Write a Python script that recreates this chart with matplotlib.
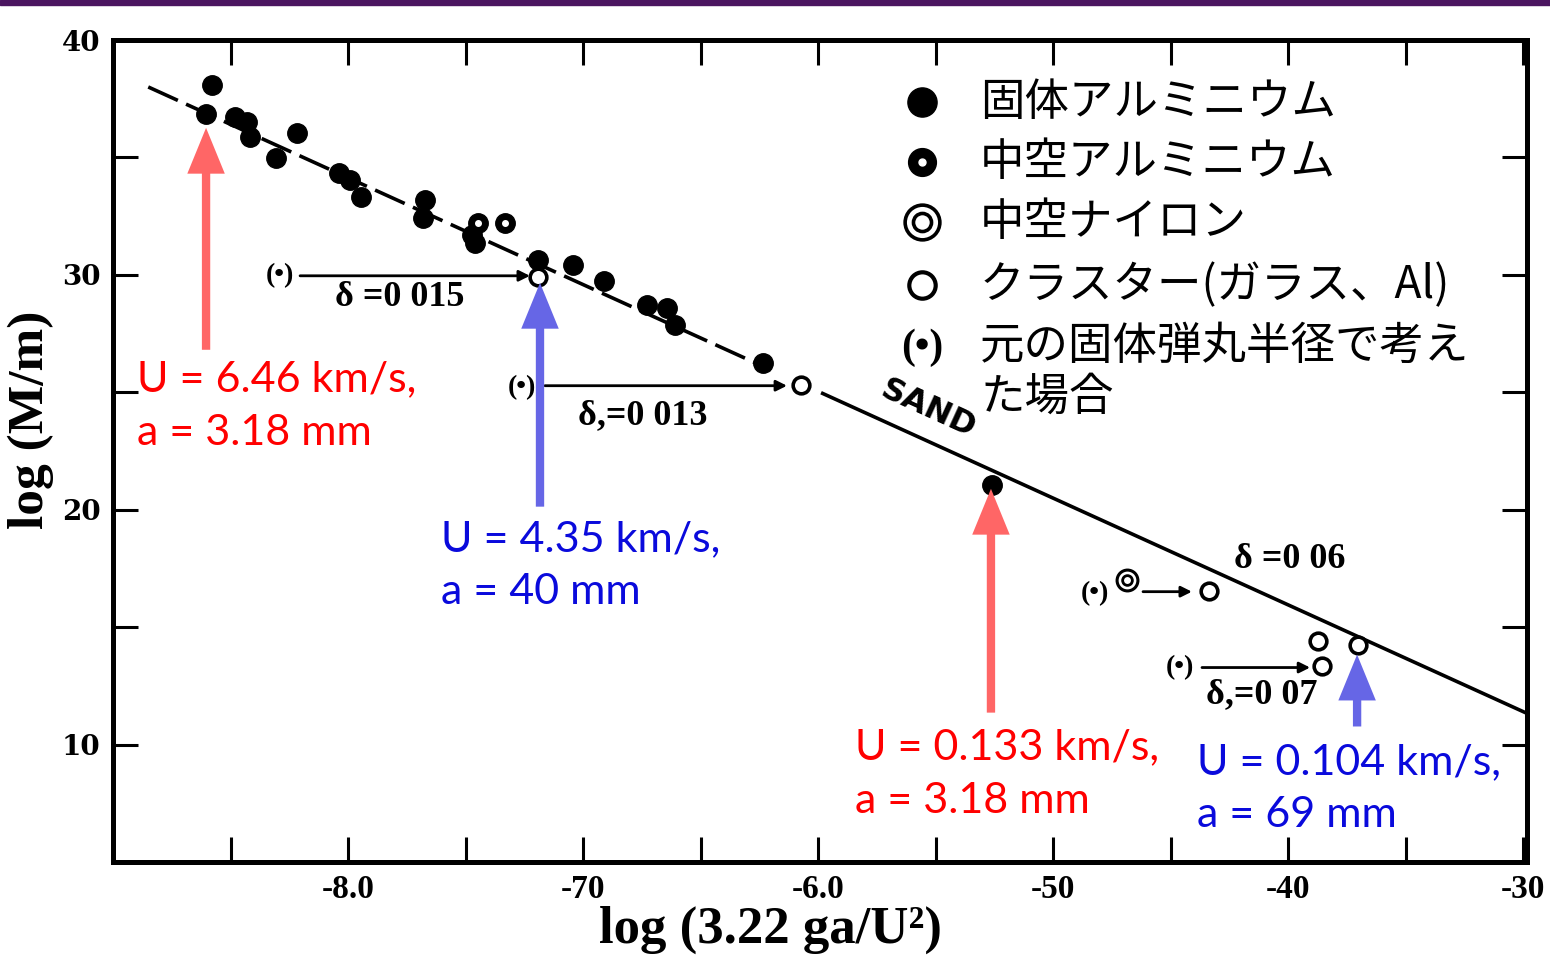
import matplotlib
matplotlib.use('Agg')
import matplotlib.pyplot as plt
from matplotlib.patches import Rectangle
import numpy as np

# ---------------- data ----------------
solid_al_x = [-8.579, -8.604, -8.481, -8.430, -8.417, -8.217, -8.306, -8.038, -7.991, -7.945,
              -7.672, -7.681, -7.460, -7.472, -7.191, -7.043, -6.911, -6.728, -6.643, -6.609,
              -6.234, -5.260]
solid_al_y = [3.809, 3.685, 3.672, 3.651, 3.587, 3.604, 3.498, 3.434, 3.404, 3.332,
              3.319, 3.243, 3.136, 3.170, 3.064, 3.043, 2.974, 2.872, 2.860, 2.787,
              2.626, 2.106]
hollow_al_x = [-7.447, -7.332]
hollow_al_y = [3.221, 3.221]
nylon_x = [-4.685]
nylon_y = [1.702]
cluster_x = [-7.191, -6.072, -4.336, -3.872, -3.855, -3.702]
cluster_y = [2.991, 2.532, 1.655, 1.443, 1.336, 1.426]

# original solid-projectile-radius positions "(•)" and shift arrows
orig_x = [-8.289, -7.260, -4.821, -4.460]
orig_y = [2.996, 2.519, 1.643, 1.328]
shift_start_x = [-8.204, -7.162, -4.617, -4.366]
shift_end_x = [-7.226, -6.132, -4.409, -3.906]
shift_y = [2.996, 2.528, 1.651, 1.328]

delta_labels = ['δ =0 015', 'δ,=0 013', 'δ =0 06', 'δ,=0 07']
delta_x = [-7.779, -6.745, -3.991, -4.111]
delta_y = [2.905, 2.400, 1.787, 1.213]

# fitted curve (dashed part and solid "SAND" part)
fit_dash_x = [-8.85, -6.20]
fit_dash_y = [3.800, 2.595]
fit_solid_x = [-5.98, -2.99]
fit_solid_y = [2.495, 1.136]

# coloured annotations
ann_texts = ['U = 6.46 km/s,\na = 3.18 mm', 'U = 4.35 km/s,\na = 40 mm',
             'U = 0.133 km/s,\na = 3.18 mm', 'U = 0.104 km/s,\na = 69 mm']
ann_text_x = [-8.898, -7.604, -5.843, -4.388]
ann_text_y = [2.44, 1.762, 0.874, 0.813]
ann_tip_x = [-8.604, -7.183, -5.264, -3.706]
ann_tip_y = [3.626, 2.966, 2.089, 1.383]
ann_tail_y = [2.681, 2.013, 1.136, 1.077]
ann_kind = ['red', 'blue', 'red', 'blue']

legend_labels = ['固体アルミニウム', '中空アルミニウム', '中空ナイロン',
                 'クラスター(ガラス、Al)', '元の固体弾丸半径で考え\nた場合']

x_ticks = [-8.5, -8.0, -7.5, -7.0, -6.5, -6.0, -5.5, -5.0, -4.5, -4.0, -3.5, -3.0]
x_ticklabels = ['', '-8.0', '', '-70', '', '-6.0', '', '-50', '', '-40', '', '-30']
y_ticks = [1.0, 1.5, 2.0, 2.5, 3.0, 3.5, 4.0]
y_ticklabels = ['10', '', '20', '', '30', '', '40']

# ---------------- style ----------------
plt.rcParams['font.family'] = ['Liberation Serif', 'DejaVu Serif']
arrow_fill = {'red': '#FF6666', 'blue': '#6666E6'}
text_col = {'red': '#FF0000', 'blue': '#0A0ADC'}
JP = ['Noto Sans CJK JP', 'DejaVu Sans']
ANN_FONT = ['Lato', 'DejaVu Sans']

fig = plt.figure(figsize=(15.5, 9.65), dpi=100)
ax = fig.add_axes([113/1550, 1 - 862/965, (1527-113)/1550, (862-40)/965])
fig.add_artist(Rectangle((0, 1 - 5/965), 1, 5/965, transform=fig.transFigure,
                         color='#4B1560', zorder=10))

ax.set_xlim(-9.0, -2.983)
ax.set_ylim(0.5, 4.0)

for s in ax.spines.values():
    s.set_linewidth(3.6)
ax.set_xticks(x_ticks)
ax.set_xticklabels(x_ticklabels, fontsize=24, fontweight='bold')
ax.set_yticks(y_ticks)
ax.set_yticklabels(y_ticklabels, fontsize=20, fontweight='bold', family=['DejaVu Serif'])
ax.tick_params(direction='in', top=True, right=True, length=18, width=2.2, pad=9)

ax.set_xlabel('log (3.22 ga/U²)', fontsize=38, fontweight='bold', va='center')
ax.xaxis.set_label_coords(0.4653, -0.0827)
ax.set_ylabel('log (M/m)', fontsize=37, fontweight='bold', va='center')
ax.yaxis.set_label_coords(-0.058, 0.538)

# fitted line
ax.plot(fit_dash_x, fit_dash_y, color='black', lw=2.6, ls=(0, (9, 2.5)), zorder=2)
ax.plot(fit_solid_x, fit_solid_y, color='black', lw=2.6, zorder=2)

# data points
ax.plot(solid_al_x, solid_al_y, 'o', color='black', ms=14, zorder=3)
ax.plot(hollow_al_x, hollow_al_y, 'o', color='black', ms=14, zorder=3)
ax.plot(hollow_al_x, hollow_al_y, 'o', color='white', ms=4, zorder=4)
ax.plot(nylon_x, nylon_y, 'o', mfc='white', mec='black', ms=15, mew=2.2, zorder=3)
ax.plot(nylon_x, nylon_y, 'o', mfc='white', mec='black', ms=7, mew=2.0, zorder=4)
ax.plot(cluster_x, cluster_y, 'o', mfc='white', mec='black', ms=12, mew=2.6, zorder=3)

# original positions and shift arrows
for x0, y0 in zip(orig_x, orig_y):
    ax.text(x0, y0, '(•)', fontsize=20, fontweight='bold', ha='center', va='center', zorder=4)
for xs, xe, yy in zip(shift_start_x, shift_end_x, shift_y):
    ax.annotate('', xy=(xe, yy), xytext=(xs, yy),
                arrowprops=dict(arrowstyle='-|>', color='black', lw=2.0,
                                mutation_scale=16, shrinkA=0, shrinkB=0), zorder=3)
for lab, x0, y0 in zip(delta_labels, delta_x, delta_y):
    ax.text(x0, y0, lab, fontsize=26, fontweight='bold', ha='center', va='center')

ax.text(-5.532, 2.43, 'SAND', fontsize=23, fontweight='bold', family=['DejaVu Sans'],
        rotation=-24.5, ha='center', va='center', rotation_mode='anchor')

# coloured arrows and annotation text
for txt, tx, ty, px, py, ly, k in zip(ann_texts, ann_text_x, ann_text_y,
                                     ann_tip_x, ann_tip_y, ann_tail_y, ann_kind):
    ax.annotate('', xy=(px, py), xytext=(px, ly),
                arrowprops=dict(width=6, headwidth=27, headlength=33,
                                color=arrow_fill[k], lw=0, shrink=0), zorder=5)
    ax.text(tx, ty, txt, fontsize=31, color=text_col[k], family=ANN_FONT,
            ha='left', va='center', linespacing=1.5, zorder=6)

# legend (manual, in axes coordinates)
leg_mx = 0.5721
leg_tx = 0.6132
leg_y = [0.9246, 0.8516, 0.7786, 0.7019, 0.6253]
tr = ax.transAxes
ax.plot([leg_mx], [leg_y[0]], 'o', color='black', ms=21, transform=tr, clip_on=False)
ax.plot([leg_mx], [leg_y[1]], 'o', color='black', ms=20, transform=tr, clip_on=False)
ax.plot([leg_mx], [leg_y[1]], 'o', color='white', ms=5, transform=tr, clip_on=False)
ax.plot([leg_mx], [leg_y[2]], 'o', mfc='white', mec='black', ms=25, mew=2.6, transform=tr, clip_on=False)
ax.plot([leg_mx], [leg_y[2]], 'o', mfc='white', mec='black', ms=13, mew=2.6, transform=tr, clip_on=False)
ax.plot([leg_mx], [leg_y[3]], 'o', mfc='white', mec='black', ms=19, mew=3.0, transform=tr, clip_on=False)
ax.text(leg_mx, leg_y[4], '(•)', fontsize=30, fontweight='bold', ha='center', va='center', transform=tr)
for i, lab in enumerate(legend_labels):
    if '\n' in lab:
        ax.text(leg_tx, leg_y[i] + 0.03, lab, fontsize=32, family=JP, ha='left', va='top',
                linespacing=1.12, transform=tr)
    else:
        ax.text(leg_tx, leg_y[i], lab, fontsize=32, family=JP, ha='left', va='center', transform=tr)

fig.savefig('out.png', dpi=100)
